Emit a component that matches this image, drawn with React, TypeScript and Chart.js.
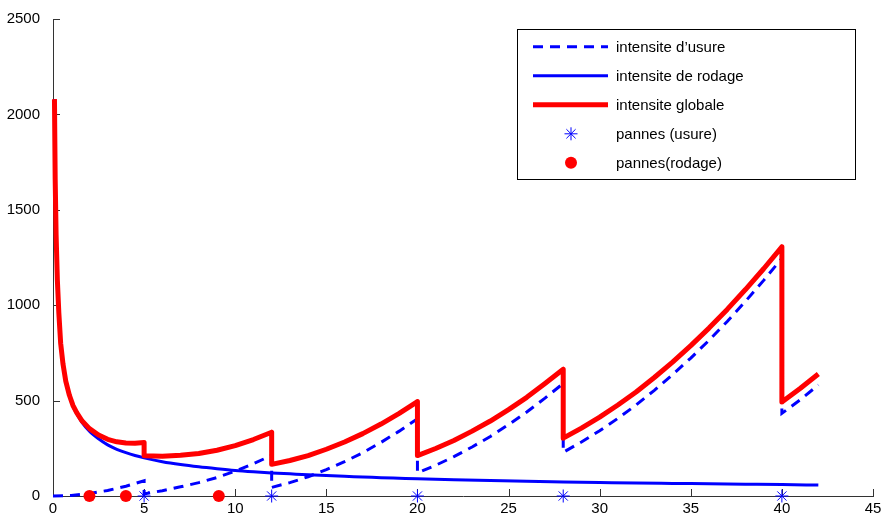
import React, { useEffect, useRef } from 'react';
import { Chart, registerables } from 'chart.js';

Chart.register(...registerables);

// Intensité de rodage (décroissante)
const rodageT = [0.08, 0.12, 0.17, 0.24, 0.32, 0.42, 0.55, 0.7, 0.9, 1.1, 1.3, 1.6, 2, 2.5, 3, 3.5, 4, 4.5, 5, 6, 7, 8, 9, 10, 11, 12, 13, 14, 15, 16, 17, 18, 19, 20, 22, 24, 26, 28, 30, 32, 34, 36, 38, 40, 42];
const rodageV = [2080, 1660, 1370, 1130, 960, 800, 690, 600, 525, 470, 432, 385, 340, 300, 268, 245, 227, 212, 200, 180, 165, 153, 143, 134, 127, 121, 116, 111, 107, 103, 100, 96, 93, 90, 85, 81, 77, 74, 71, 68, 66, 64, 62, 60, 57];

// Intensité d'usure (remise à niveau à chaque panne d'usure)
const usureT = [0, 1, 2, 3, 4, 5, 5, 6, 7, 8, 9, 10, 11, 12, 12, 13, 14, 15, 16, 17, 18, 19, 20, 20, 21, 22, 23, 24, 25, 26, 27, 28, 28, 29, 30, 31, 32, 33, 34, 35, 36, 37, 38, 39, 40, 40, 41, 42];
const usureV = [0, 3, 13, 29, 51, 80, 11, 28, 48, 70, 97, 130, 169, 213, 45, 70, 101, 138, 180, 227, 281, 340, 405, 122, 161, 206, 257, 312, 374, 440, 513, 590, 229, 283, 342, 407, 477, 554, 636, 723, 816, 915, 1020, 1130, 1246, 433, 504, 582];

// Intensité globale
const globalT = [0.08, 0.12, 0.17, 0.24, 0.32, 0.42, 0.55, 0.7, 0.9, 1.1, 1.3, 1.6, 2, 2.5, 3, 3.5, 4, 4.5, 5, 5, 6, 7, 8, 9, 10, 11, 12, 12, 13, 14, 15, 16, 17, 18, 19, 20, 20, 21, 22, 23, 24, 25, 26, 27, 28, 28, 29, 30, 31, 32, 33, 34, 35, 36, 37, 38, 39, 40, 40, 41, 42];
const globalV = [2080, 1660, 1370, 1130, 960, 801, 691, 602, 528, 474, 437, 393, 353, 320, 297, 284, 278, 277, 280, 211, 208, 213, 223, 240, 264, 296, 334, 166, 186, 212, 245, 283, 327, 377, 433, 495, 212, 249, 291, 340, 393, 453, 517, 589, 664, 303, 356, 413, 477, 545, 621, 702, 788, 880, 978, 1082, 1191, 1306, 493, 563, 639];

// Instants de panne
const pannesUsureT = [5, 12, 20, 28, 40];
const pannesRodageT = [2, 4, 9.1];

const legendLabels = [
  'intensite d’usure',
  'intensite de rodage',
  'intensite globale',
  'pannes (usure)',
  'pannes(rodage)',
];

const BLUE = '#0000ff';
const RED = '#ff0000';
const AXIS = '#333333';
const FONT = '"Liberation Sans", Arial, Helvetica, sans-serif';
const W_RED = 5;
const W_BLUE = 3;
const DASH = [10, 7];

const pts = (xs: number[], ys: number[]) => xs.map((x, i) => ({ x, y: ys[i] }));

// Graduations tournées vers l'intérieur du repère
const innerTicks = {
  id: 'innerTicks',
  beforeDatasetsDraw(chart: any) {
    const { ctx, chartArea, scales } = chart;
    const len = 7;
    ctx.save();
    ctx.strokeStyle = AXIS;
    ctx.lineWidth = 1;
    ctx.beginPath();
    scales.x.ticks.forEach((t: any) => {
      if (t.value === 0) return;
      const px = Math.round(scales.x.getPixelForValue(t.value)) + 0.5;
      ctx.moveTo(px, chartArea.bottom);
      ctx.lineTo(px, chartArea.bottom - len);
    });
    scales.y.ticks.forEach((t: any) => {
      if (t.value === 0) return;
      const py = Math.round(scales.y.getPixelForValue(t.value)) + 0.5;
      ctx.moveTo(chartArea.left, py);
      ctx.lineTo(chartArea.left + len, py);
    });
    ctx.stroke();
    ctx.restore();
  },
};

// Légende encadrée
const boxLegend = {
  id: 'boxLegend',
  afterDraw(chart: any) {
    const ctx = chart.ctx;
    const left = 517;
    const top = 29;
    const w = 338;
    const h = 150;
    ctx.save();
    ctx.fillStyle = '#ffffff';
    ctx.fillRect(left, top, w, h);
    ctx.strokeStyle = '#000000';
    ctx.lineWidth = 1;
    ctx.strokeRect(left + 0.5, top + 0.5, w, h);

    const x0 = 533;
    const x1 = 608;
    const xm = 571;
    const xt = 616;
    const rowY = (i: number) => 46.8 + i * 29;

    // ligne pointillée
    ctx.lineCap = 'butt';
    ctx.strokeStyle = BLUE;
    ctx.lineWidth = W_BLUE;
    ctx.setLineDash(DASH);
    ctx.beginPath();
    ctx.moveTo(x0, rowY(0));
    ctx.lineTo(x1, rowY(0));
    ctx.stroke();
    ctx.setLineDash([]);

    // ligne continue bleue
    ctx.beginPath();
    ctx.moveTo(x0, rowY(1));
    ctx.lineTo(x1, rowY(1));
    ctx.stroke();

    // ligne rouge épaisse
    ctx.strokeStyle = RED;
    ctx.lineWidth = W_RED;
    ctx.beginPath();
    ctx.moveTo(x0, rowY(2));
    ctx.lineTo(x1, rowY(2));
    ctx.stroke();

    // astérisque
    const r = 6.5;
    const d = r * Math.SQRT1_2;
    const sy = rowY(3);
    ctx.strokeStyle = BLUE;
    ctx.lineWidth = 1;
    ctx.beginPath();
    ctx.moveTo(xm, sy - r); ctx.lineTo(xm, sy + r);
    ctx.moveTo(xm - r, sy); ctx.lineTo(xm + r, sy);
    ctx.moveTo(xm - d, sy - d); ctx.lineTo(xm + d, sy + d);
    ctx.moveTo(xm - d, sy + d); ctx.lineTo(xm + d, sy - d);
    ctx.stroke();

    // disque rouge
    ctx.fillStyle = RED;
    ctx.beginPath();
    ctx.arc(xm, rowY(4), 6, 0, Math.PI * 2);
    ctx.fill();

    ctx.fillStyle = '#000000';
    ctx.font = `15px ${FONT}`;
    ctx.textAlign = 'left';
    ctx.textBaseline = 'alphabetic';
    legendLabels.forEach((label, i) => {
      ctx.fillText(label, xt, rowY(i) + 5.5);
    });
    ctx.restore();
  },
};

export default function App() {
  const canvasRef = useRef<HTMLCanvasElement | null>(null);

  useEffect(() => {
    const canvas = canvasRef.current;
    if (!canvas) return;
    const chart = new Chart(canvas, {
      type: 'line',
      data: {
        datasets: [
          {
            label: legendLabels[3],
            data: pannesUsureT.map((x) => ({ x, y: 0 })),
            showLine: false,
            pointStyle: 'star',
            pointRadius: 6.5,
            pointBorderWidth: 1,
            pointBorderColor: BLUE,
            pointBackgroundColor: BLUE,
            borderColor: BLUE,
            clip: false,
            order: 0,
          },
          {
            label: legendLabels[4],
            data: pannesRodageT.map((x) => ({ x, y: 0 })),
            showLine: false,
            pointStyle: 'circle',
            pointRadius: 6,
            pointBorderWidth: 0,
            pointBackgroundColor: RED,
            borderColor: RED,
            clip: false,
            order: 0,
          },
          {
            label: legendLabels[2],
            data: pts(globalT, globalV),
            borderColor: RED,
            borderWidth: W_RED,
            pointRadius: 0,
            tension: 0,
            borderJoinStyle: 'round',
            clip: false,
            order: 1,
          },
          {
            label: legendLabels[1],
            data: pts(rodageT, rodageV),
            borderColor: BLUE,
            borderWidth: W_BLUE,
            pointRadius: 0,
            cubicInterpolationMode: 'monotone',
            clip: false,
            order: 2,
          },
          {
            label: legendLabels[0],
            data: pts(usureT, usureV),
            borderColor: BLUE,
            borderWidth: W_BLUE,
            borderDash: DASH,
            pointRadius: 0,
            tension: 0,
            clip: false,
            order: 3,
          },
        ],
      },
      options: {
        animation: false,
        responsive: false,
        events: [],
        layout: { padding: { left: 0, right: 11, top: 19, bottom: 0 } },
        plugins: {
          legend: { display: false },
          tooltip: { enabled: false },
        },
        scales: {
          x: {
            type: 'linear',
            min: 0,
            max: 45,
            ticks: {
              stepSize: 5,
              color: '#000',
              padding: -4,
              maxRotation: 0,
              font: { family: FONT, size: 15 },
              callback: (v: any) => String(v),
            },
            grid: { display: false },
            border: { display: true, color: AXIS, width: 1 },
            afterFit: (scale: any) => {
              scale.height = 21;
            },
          },
          y: {
            type: 'linear',
            min: 0,
            max: 2500,
            ticks: {
              stepSize: 500,
              color: '#000',
              padding: 5,
              font: { family: FONT, size: 15 },
              callback: (v: any) => String(v),
            },
            grid: { display: false },
            border: { display: true, color: AXIS, width: 1 },
            afterFit: (scale: any) => {
              scale.width = 53;
            },
          },
        },
      },
      plugins: [innerTicks, boxLegend],
    });
    return () => chart.destroy();
  }, []);

  return (
    <div style={{ position: 'fixed', left: 0, top: 0, width: 884, height: 517, background: '#fff' }}>
      <canvas ref={canvasRef} width={884} height={517} style={{ width: 884, height: 517, display: 'block' }} />
    </div>
  );
}
